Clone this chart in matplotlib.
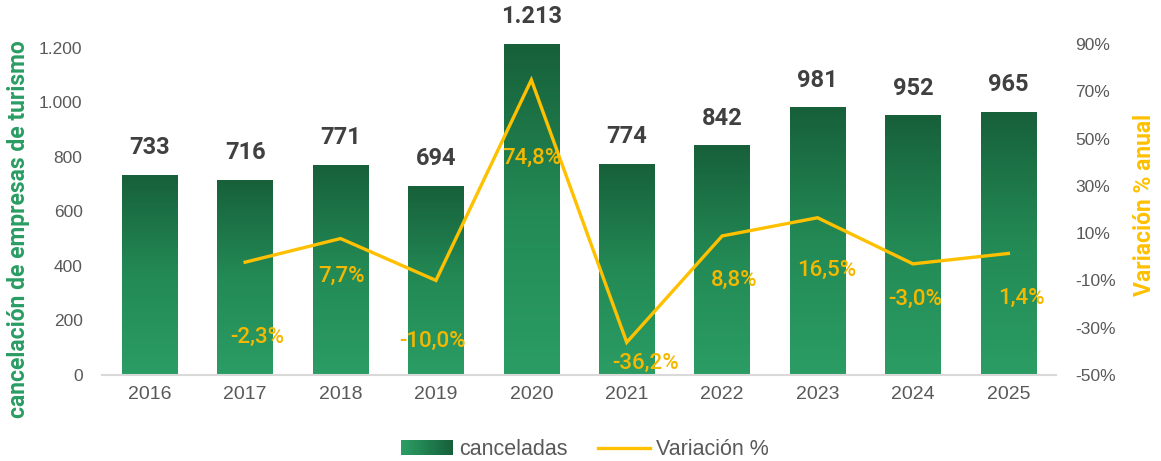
import matplotlib
matplotlib.use("Agg")
import matplotlib.pyplot as plt
import numpy as np
from matplotlib.patches import Rectangle
from matplotlib.lines import Line2D
from matplotlib.legend_handler import HandlerBase
from matplotlib.colors import LinearSegmentedColormap
from matplotlib.ticker import FuncFormatter, FixedLocator

# ---- data ----
years = ["2016", "2017", "2018", "2019", "2020", "2021", "2022", "2023", "2024", "2025"]
canceladas = [733, 716, 771, 694, 1213, 774, 842, 981, 952, 965]
var_years = ["2017", "2018", "2019", "2020", "2021", "2022", "2023", "2024", "2025"]
variacion = [-2.3, 7.7, -10.0, 74.8, -36.2, 8.8, 16.5, -3.0, 1.4]
left_ticks = [0, 200, 400, 600, 800, 1000, 1200]
right_ticks = [-50, -30, -10, 10, 30, 50, 70, 90]

# label offsets (pixels) for the percent labels
pct_dx = [12, 1, -3, 1, 19, 12, 9, 2, 13]
pct_dy = [-75, -38, -61, -78, -21, -44, -53, -36, -45]

plt.rcParams['font.family'] = ['Liberation Sans', 'DejaVu Sans']

DARK = "#17603a"
LIGHT = "#2b9d64"
GOLD = "#ffc000"
GOLD_TXT = "#f5b800"
GRAY = "#595959"

cmap_v = LinearSegmentedColormap.from_list("g", [LIGHT, "#238a55", DARK])

fig = plt.figure(figsize=(11.61, 4.61), dpi=100)
ax = fig.add_axes([0.0879, 0.1866, 0.8217, 0.718])
ax2 = ax.twinx()

x = np.arange(len(years))
bars = ax.bar(x, canceladas, width=0.58, color="none", edgecolor="none", zorder=2)
grad = np.linspace(0, 1, 256).reshape(-1, 1)
for b in bars:
    x0, y0 = b.get_x(), b.get_y()
    w, h = b.get_width(), b.get_height()
    im = ax.imshow(grad, cmap=cmap_v, origin="lower", aspect="auto",
                   extent=[x0, x0 + w, y0, y0 + h], zorder=2)
    im.set_clip_path(b)

ax.set_xlim(-0.5, len(years) - 0.5)
ax.set_ylim(0, 1213)
ax.yaxis.set_major_locator(FixedLocator(left_ticks))
ax.yaxis.set_major_formatter(FuncFormatter(lambda v, p: f"{int(v):,}".replace(",", ".")))
ax.set_xticks(x)
ax.set_xticklabels(years)

for xi, v in zip(x, canceladas):
    ax.annotate(f"{v:,}".replace(",", "."), (xi, v), xytext=(0, 27), textcoords="offset pixels",
                ha="center", va="center", fontsize=17, fontweight="bold", color="#404040",
                family=["Roboto", "DejaVu Sans"])

for s in ["top", "left", "right"]:
    ax.spines[s].set_visible(False)
    ax2.spines[s].set_visible(False)
ax.spines["bottom"].set_color("#d9d9d9")
ax.spines["bottom"].set_linewidth(1.5)
ax2.spines["bottom"].set_visible(False)

ax.tick_params(axis="both", length=0, colors=GRAY)
ax.tick_params(axis="x", labelsize=14, pad=8)
ax.tick_params(axis="y", labelsize=12.5, pad=14)

# line
vx = [years.index(y) for y in var_years]
ax2.plot(vx, variacion, color=GOLD, lw=2.4, zorder=3, solid_joinstyle="miter")
ax2.set_ylim(-50, 90)
ax2.yaxis.set_major_locator(FixedLocator(right_ticks))
ax2.yaxis.set_major_formatter(FuncFormatter(lambda v, p: f"{int(v)}%"))
ax2.tick_params(axis="y", length=0, colors=GRAY, labelsize=12.5, pad=14)
ax.set_zorder(1)
ax2.set_zorder(2)
ax2.patch.set_visible(False)

for xi, v, dx, dy in zip(vx, variacion, pct_dx, pct_dy):
    ax2.annotate(f"{v:.1f}%".replace(".", ","), (xi, v), xytext=(dx, dy), textcoords="offset pixels",
                 ha="center", va="center", fontsize=16, fontweight="medium", color=GOLD_TXT,
                 family=["Roboto", "DejaVu Sans"])

fig.text(0.016, 0.503, "cancelación de empresas de turismo", rotation=90, ha="center", va="center",
         fontsize=16.5, fontweight="bold", color="#2a9d63", family=["Roboto", "DejaVu Sans"])
fig.text(0.986, 0.555, "Variación % anual", rotation=90, ha="center", va="center",
         fontsize=16.5, fontweight="bold", color=GOLD, family=["Roboto", "DejaVu Sans"])

cmap_h = LinearSegmentedColormap.from_list("h", [LIGHT, DARK])


class GradHandler(HandlerBase):
    def create_artists(self, legend, orig_handle, xdescent, ydescent, width, height, fontsize, trans):
        n = 24
        arts = []
        for i in range(n):
            r = Rectangle((-xdescent + width * i / n, -ydescent), width / n * 1.08, height,
                          facecolor=cmap_h(i / (n - 1)), edgecolor="none", transform=trans)
            arts.append(r)
        return arts


bar_handle = Rectangle((0, 0), 1, 1)
line_handle = Line2D([0], [0], color=GOLD, lw=2.4)
fig.legend([bar_handle, line_handle], ["canceladas", "Variación %"],
           handler_map={Rectangle: GradHandler()},
           loc="center", bbox_to_anchor=(0.504, 0.024), ncol=2, frameon=False,
           fontsize=15.5, labelcolor=GRAY, handlelength=2.4, handleheight=0.7,
           handletextpad=0.3, columnspacing=1.4)

fig.savefig("out.png", dpi=100)
